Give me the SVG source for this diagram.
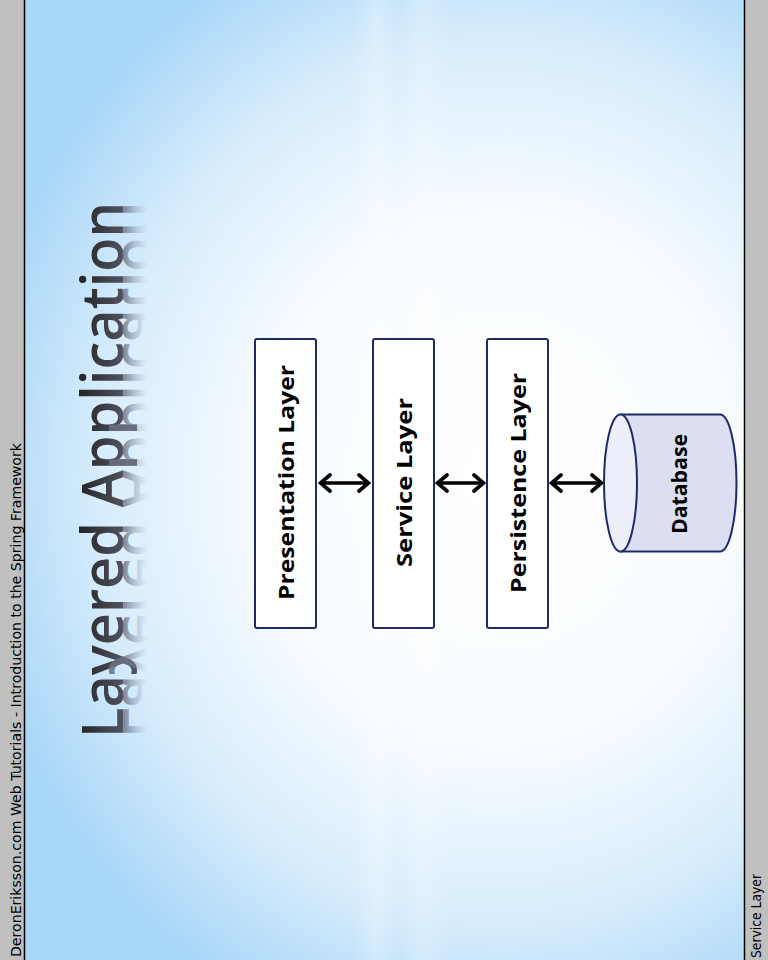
<svg xmlns="http://www.w3.org/2000/svg" width="768" height="960" viewBox="0 0 768 960">
<defs>
<radialGradient id="bgGlow" cx="500" cy="480" r="560" gradientUnits="userSpaceOnUse" gradientTransform="translate(500 480) scale(0.95 1.05) translate(-500 -480)">
<stop offset="0" stop-color="#ffffff" stop-opacity="1"/>
<stop offset="0.45" stop-color="#ffffff" stop-opacity="0.92"/>
<stop offset="0.75" stop-color="#ffffff" stop-opacity="0.55"/>
<stop offset="1" stop-color="#ffffff" stop-opacity="0"/>
</radialGradient>
<linearGradient id="band" x1="0" y1="0" x2="768" y2="0" gradientUnits="userSpaceOnUse">
<stop offset="0" stop-color="#ffffff" stop-opacity="0"/>
<stop offset="0.46" stop-color="#ffffff" stop-opacity="0"/>
<stop offset="0.49" stop-color="#ffffff" stop-opacity="0.25"/>
<stop offset="0.52" stop-color="#ffffff" stop-opacity="0"/>
<stop offset="0.55" stop-color="#ffffff" stop-opacity="0.2"/>
<stop offset="0.59" stop-color="#ffffff" stop-opacity="0"/>
<stop offset="1" stop-color="#ffffff" stop-opacity="0"/>
</linearGradient>
<linearGradient id="titleFill" x1="0" y1="-42" x2="0" y2="0" gradientUnits="userSpaceOnUse">
<stop offset="0" stop-color="#262628"/>
<stop offset="1" stop-color="#50535f"/>
</linearGradient>
<linearGradient id="reflFill" x1="0" y1="0" x2="0" y2="-25" gradientUnits="userSpaceOnUse">
<stop offset="0" stop-color="#6a7080" stop-opacity="0.85"/>
<stop offset="1" stop-color="#a0b0c8" stop-opacity="0"/>
</linearGradient>
<marker id="chev" viewBox="0 0 16 20" refX="14" refY="10" markerWidth="16" markerHeight="20" markerUnits="userSpaceOnUse" orient="auto-start-reverse">
<path d="M4,2 L13.5,10 L4,18" fill="none" stroke="#000" stroke-width="3.6" stroke-linejoin="miter" stroke-linecap="round"/>
</marker>
<style>
.box{fill:#ffffff;stroke:#1f2a6b;stroke-width:2}
.lbl{font-family:"Open Sans","DejaVu Sans",sans-serif;font-weight:bold;font-size:22px;fill:#000}
.strip{fill:#c0c0c0}
.stripTxt{font-family:"DejaVu Sans","Liberation Sans",sans-serif;font-size:14px;fill:#000}
.conn{stroke:#000;stroke-width:3.6;fill:none}
</style>
</defs>

<!-- background -->
<rect x="0" y="0" width="768" height="960" fill="#a8d6f8"/>
<rect x="0" y="0" width="768" height="960" fill="url(#bgGlow)"/>
<rect x="0" y="0" width="768" height="960" fill="url(#band)"/>

<!-- side strips -->
<rect class="strip" x="0" y="0" width="24.5" height="960"/>
<rect class="strip" x="744.5" y="0" width="23.5" height="960"/>
<line x1="24.5" y1="0" x2="24.5" y2="960" stroke="#000" stroke-width="1.5"/>
<line x1="744.5" y1="0" x2="744.5" y2="960" stroke="#000" stroke-width="1.5"/>
<text class="stripTxt" transform="translate(20.5 957) rotate(-90)" x="0" y="0" textLength="514" lengthAdjust="spacingAndGlyphs">DeronEriksson.com Web Tutorials - Introduction to the Spring Framework</text>
<text class="stripTxt" transform="translate(761 958) rotate(-90)" x="0" y="0" textLength="84" lengthAdjust="spacingAndGlyphs">Service Layer</text>

<!-- title -->
<g id="title" transform="translate(123 738) rotate(-90)">
<text x="0" y="0" font-family="'Open Sans','DejaVu Sans',sans-serif" font-weight="600" font-size="57" fill="url(#titleFill)" textLength="536" lengthAdjust="spacingAndGlyphs">Layered Application</text>
<text x="0" y="0" transform="scale(1 -1)" font-family="'Open Sans','DejaVu Sans',sans-serif" font-weight="600" font-size="57" fill="url(#reflFill)" textLength="536" lengthAdjust="spacingAndGlyphs">Layered Application</text>
</g>

<!-- connectors -->
<g id="connectors">
<line class="conn" x1="320" y1="483" x2="369" y2="483" marker-start="url(#chev)" marker-end="url(#chev)"/>
<line class="conn" x1="437" y1="483" x2="484" y2="483" marker-start="url(#chev)" marker-end="url(#chev)"/>
<line class="conn" x1="551" y1="483" x2="602" y2="483" marker-start="url(#chev)" marker-end="url(#chev)"/>
</g>

<g id="presentation">
<rect class="box" x="255" y="339" width="61" height="289" rx="2"/>
<text class="lbl" transform="translate(294 482.5) rotate(-90)" x="0" y="0" text-anchor="middle" textLength="235" lengthAdjust="spacingAndGlyphs">Presentation Layer</text>
</g>

<g id="service">
<rect class="box" x="373" y="339" width="61" height="289" rx="2"/>
<text class="lbl" transform="translate(412 482.5) rotate(-90)" x="0" y="0" text-anchor="middle" textLength="169" lengthAdjust="spacingAndGlyphs">Service Layer</text>
</g>

<g id="persistence">
<rect class="box" x="487" y="339" width="61" height="289" rx="2"/>
<text class="lbl" transform="translate(525.5 483) rotate(-90)" x="0" y="0" text-anchor="middle" textLength="220" lengthAdjust="spacingAndGlyphs">Persistence Layer</text>
</g>

<g id="database">
<path d="M620.5,414.5 L720,414.5 A16.5,68.5 0 0 1 720,551.5 L620.5,551.5 Z" fill="#dcdff2" stroke="#1f2a6b" stroke-width="2"/>
<ellipse cx="620.5" cy="483" rx="16.5" ry="68.5" fill="#eceef9" stroke="#1f2a6b" stroke-width="2"/>
<text class="lbl" transform="translate(687 484) rotate(-90)" x="0" y="0" text-anchor="middle" font-size="20" textLength="100" lengthAdjust="spacingAndGlyphs">Database</text>
</g>
</svg>
